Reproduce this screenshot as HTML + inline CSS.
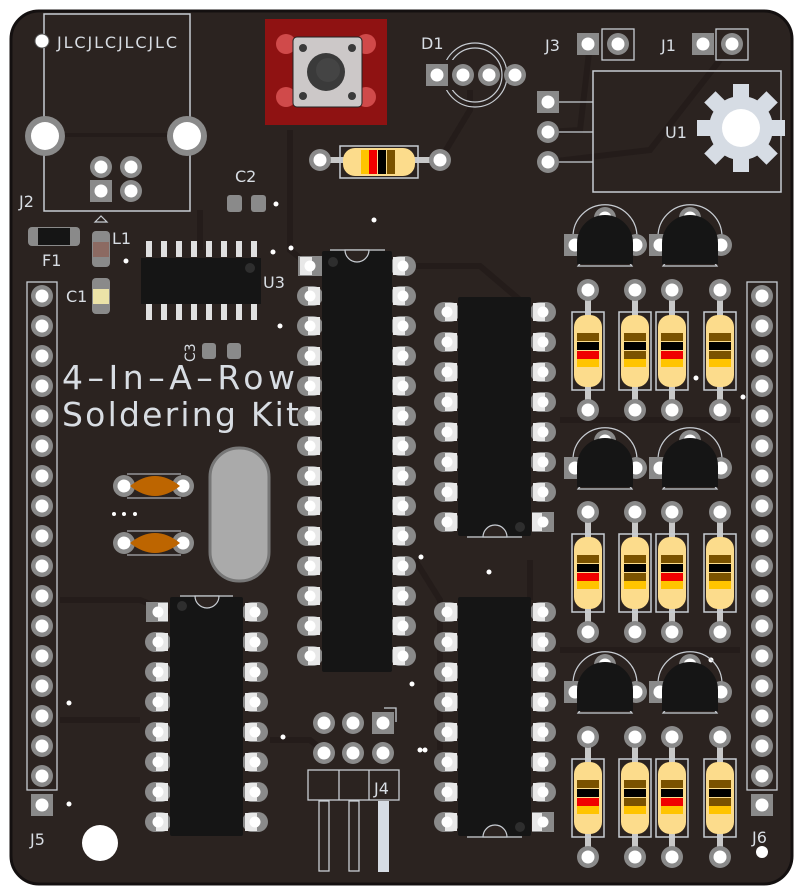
<!DOCTYPE html>
<html><head><meta charset="utf-8"><style>
html,body{margin:0;padding:0;background:#fff;width:804px;height:894px;overflow:hidden}
svg{display:block}
text{font-family:"DejaVu Sans","Liberation Sans",sans-serif;fill:#d8dde3}
</style></head><body>
<svg width="804" height="894" viewBox="0 0 804 894" xmlns="http://www.w3.org/2000/svg">
<defs>
<g id="pad"><circle r="11" fill="#8a8a8a"/><circle r="6.5" fill="#fff"/></g>
<g id="spad"><rect x="-11" y="-11" width="22" height="22" fill="#8a8a8a"/><circle r="6.5" fill="#fff"/></g>
<g id="dl"><rect x="-13" y="-10" width="26" height="20" rx="10" fill="#8a8a8a"/><rect x="-2" y="-9" width="12" height="18" fill="#e8e8e8"/><circle r="5.5" fill="#fff"/></g>
<g id="dr"><rect x="-13" y="-10" width="26" height="20" rx="10" fill="#8a8a8a"/><rect x="-10" y="-9" width="12" height="18" fill="#e8e8e8"/><circle r="5.5" fill="#fff"/></g>
<g id="dsq"><rect x="-12" y="-10" width="24" height="20" fill="#8a8a8a"/><rect x="-10" y="-9" width="12" height="18" fill="#e8e8e8"/><circle r="5.5" fill="#fff"/></g>
<g id="resR">
<line x1="0" y1="0" x2="0" y2="120" stroke="#c8c8c8" stroke-width="6"/>
<use href="#pad"/><use href="#pad" y="120"/>
<rect x="-16" y="22" width="32" height="78" fill="none" stroke="#c8cdd3" stroke-width="1.5"/>
<rect x="-14" y="25" width="28" height="72" rx="12" fill="#fcdc8c"/>
<rect x="-11" y="36" width="22" height="50" fill="#fcdc8c"/>
<rect x="-11" y="43" width="22" height="8" fill="#7a5200"/>
<rect x="-11" y="52" width="22" height="8" fill="#000"/>
<rect x="-11" y="61" width="22" height="8" fill="#f00000"/>
<rect x="-11" y="69" width="22" height="8" fill="#ffc400"/>
</g>
<g id="resB">
<line x1="0" y1="0" x2="0" y2="120" stroke="#c8c8c8" stroke-width="6"/>
<use href="#pad"/><use href="#pad" y="120"/>
<rect x="-16" y="22" width="32" height="78" fill="none" stroke="#c8cdd3" stroke-width="1.5"/>
<rect x="-14" y="25" width="28" height="72" rx="12" fill="#fcdc8c"/>
<rect x="-11" y="36" width="22" height="50" fill="#fcdc8c"/>
<rect x="-11" y="43" width="22" height="8" fill="#7a5200"/>
<rect x="-11" y="52" width="22" height="8" fill="#000"/>
<rect x="-11" y="61" width="22" height="8" fill="#7a5200"/>
<rect x="-11" y="69" width="22" height="8" fill="#ffc400"/>
</g>
<g id="tr">
<path d="M-22,22 A32,32 0 1 1 22,22 L27,28 L-27,28 Z" fill="none" stroke="#c8cdd3" stroke-width="1.2" transform="translate(0,-2)"/>
<use href="#pad" y="-22"/>
<use href="#spad" x="-30" y="5"/>
<use href="#pad" x="31" y="5"/>
<path d="M-28,24 L-28,3 A28,28 0 0 1 28,3 L28,24 Z" fill="#151515"/>
</g>
</defs>

<!-- board -->
<rect x="11" y="11" width="781" height="873" rx="28" fill="#2b2320" stroke="#141010" stroke-width="3"/>

<!-- traces (hint) -->
<g fill="none" stroke="#241c1a" stroke-width="6" opacity="0.9">
<path d="M200,210 L200,250"/><path d="M290,130 L290,250 L310,266"/>
<path d="M403,266 L480,266 L520,300"/><path d="M60,600 L140,600 L170,612"/>
<path d="M440,160 L470,110 L470,75"/><path d="M548,132 L580,130 L590,44"/>
<path d="M548,162 L650,150 L720,60"/><path d="M270,740 L310,740 L325,752"/>
<path d="M530,560 L530,600"/><path d="M415,560 L440,600 L440,750"/>
<path d="M60,720 L140,720"/><path d="M560,420 L740,420"/><path d="M560,650 L740,650"/>
</g>

<!-- J2 -->
<rect x="44" y="14" width="146" height="197" fill="none" stroke="#c8cdd3" stroke-width="1.5"/>
<line x1="45" y1="135" x2="187" y2="135" stroke="#241c1a" stroke-width="4"/>
<circle cx="45" cy="136" r="20" fill="#8a8a8a"/><circle cx="45" cy="136" r="14" fill="#fff"/>
<circle cx="187" cy="136" r="20" fill="#8a8a8a"/><circle cx="187" cy="136" r="14" fill="#fff"/>
<circle cx="42" cy="41" r="7" fill="#fff" stroke="#555" stroke-width="1"/>
<text x="57" y="48" font-size="16" textLength="120">JLCJLCJLCJLC</text>
<use href="#pad" x="101" y="167"/><use href="#pad" x="131" y="167"/>
<use href="#spad" x="101" y="191"/><use href="#pad" x="131" y="191"/>
<path d="M95,222 L101,216 L107,222 Z" fill="none" stroke="#c8cdd3" stroke-width="1.2"/>
<text x="19" y="207" font-size="16">J2</text>

<!-- F1, L1, C1 -->
<rect x="28" y="227" width="52" height="19" rx="4" fill="#8a8a8a"/><rect x="38" y="228" width="32" height="17" fill="#151515"/>
<text x="42" y="266" font-size="16">F1</text>
<rect x="92" y="231" width="18" height="36" rx="4" fill="#8a8a8a"/><rect x="93" y="242" width="16" height="15" fill="#8c6a62"/>
<text x="112" y="244" font-size="16">L1</text>
<rect x="92" y="278" width="18" height="36" rx="4" fill="#8a8a8a"/><rect x="93" y="289" width="16" height="15" fill="#ece3a8"/>
<text x="66" y="302" font-size="16">C1</text>
<circle cx="126" cy="261" r="2.5" fill="#fff"/>

<!-- C2 -->
<rect x="227" y="195" width="15" height="17" rx="3" fill="#8a8a8a"/><rect x="251" y="195" width="15" height="17" rx="3" fill="#8a8a8a"/>
<text x="235" y="182" font-size="16">C2</text>
<circle cx="276" cy="204" r="2.5" fill="#fff"/>
<!-- C3 -->
<rect x="202" y="343" width="14" height="16" rx="3" fill="#8a8a8a"/><rect x="227" y="343" width="14" height="16" rx="3" fill="#8a8a8a"/>
<text x="0" y="0" font-size="14" transform="translate(195,362) rotate(-90)">C3</text>

<!-- U3 SOIC -->
<g fill="#e0e0e0">
<rect x="146" y="241" width="6" height="16"/><rect x="161" y="241" width="6" height="16"/><rect x="176" y="241" width="6" height="16"/><rect x="191" y="241" width="6" height="16"/><rect x="206" y="241" width="6" height="16"/><rect x="221" y="241" width="6" height="16"/><rect x="236" y="241" width="6" height="16"/><rect x="251" y="241" width="6" height="16"/>
<rect x="146" y="304" width="6" height="16"/><rect x="161" y="304" width="6" height="16"/><rect x="176" y="304" width="6" height="16"/><rect x="191" y="304" width="6" height="16"/><rect x="206" y="304" width="6" height="16"/><rect x="221" y="304" width="6" height="16"/><rect x="236" y="304" width="6" height="16"/><rect x="251" y="304" width="6" height="16"/>
</g>
<rect x="141" y="258" width="120" height="46" fill="#151515"/>
<circle cx="250" cy="268" r="5" fill="#2e2e2e"/>
<text x="263" y="288" font-size="16">U3</text>
<circle cx="273" cy="252" r="2.5" fill="#fff"/><circle cx="280" cy="326" r="2.5" fill="#fff"/>

<!-- button -->
<rect x="265" y="19" width="122" height="106" fill="#8f1212"/>
<circle cx="286" cy="44" r="10" fill="#d04a4a"/><circle cx="366" cy="44" r="10" fill="#d04a4a"/>
<circle cx="286" cy="97" r="10" fill="#d04a4a"/><circle cx="366" cy="97" r="10" fill="#d04a4a"/>
<rect x="293" y="37" width="69" height="70" rx="4" fill="#ccc8c8" stroke="#222" stroke-width="1"/>
<circle cx="326" cy="72" r="19" fill="#3a3a3a"/><circle cx="328" cy="70" r="12" fill="#444"/>
<circle cx="303" cy="48" r="4" fill="#3a3a3a"/><circle cx="352" cy="48" r="4" fill="#3a3a3a"/>
<circle cx="303" cy="96" r="4" fill="#3a3a3a"/><circle cx="352" cy="96" r="4" fill="#3a3a3a"/>

<!-- horizontal resistor -->
<line x1="320" y1="160" x2="440" y2="160" stroke="#c8c8c8" stroke-width="6"/>
<use href="#pad" x="320" y="160"/><use href="#pad" x="440" y="160"/>
<rect x="340" y="146" width="78" height="32" fill="none" stroke="#c8cdd3" stroke-width="1.5"/>
<rect x="343" y="148" width="72" height="28" rx="12" fill="#fcdc8c"/>
<rect x="361" y="150" width="8" height="24" fill="#ffc400"/><rect x="369" y="150" width="8" height="24" fill="#f00000"/><rect x="378" y="150" width="8" height="24" fill="#000"/><rect x="387" y="150" width="8" height="24" fill="#7a5200"/>
<circle cx="374" cy="220" r="2.5" fill="#fff"/>

<!-- D1 -->
<circle cx="475" cy="75" r="32" fill="none" stroke="#c8cdd3" stroke-width="1.2"/>
<circle cx="475" cy="75" r="27" fill="none" stroke="#c8cdd3" stroke-width="1.2"/>
<rect x="440" y="60" width="35" height="30" fill="#2b2320"/>
<use href="#spad" x="437" y="75"/><use href="#pad" x="463" y="75"/><use href="#pad" x="489" y="75"/><use href="#pad" x="515" y="75"/>
<text x="421" y="49" font-size="16">D1</text>

<!-- J3 J1 -->
<text x="545" y="51" font-size="16">J3</text>
<use href="#spad" x="588" y="44"/><rect x="602" y="29" width="32" height="31" fill="none" stroke="#c8cdd3" stroke-width="1.3"/><use href="#pad" x="618" y="44"/>
<text x="661" y="51" font-size="16">J1</text>
<use href="#spad" x="703" y="44"/><rect x="716" y="29" width="32" height="31" fill="none" stroke="#c8cdd3" stroke-width="1.3"/><use href="#pad" x="732" y="44"/>

<!-- U1 -->
<rect x="593" y="71" width="188" height="121" fill="none" stroke="#c8cdd3" stroke-width="1.5"/>
<line x1="558" y1="102" x2="593" y2="102" stroke="#c8cdd3" stroke-width="1.3"/>
<line x1="558" y1="132" x2="593" y2="132" stroke="#c8cdd3" stroke-width="1.3"/>
<line x1="558" y1="162" x2="593" y2="162" stroke="#c8cdd3" stroke-width="1.3"/>
<use href="#spad" x="548" y="102"/><use href="#pad" x="548" y="132"/><use href="#pad" x="548" y="162"/>
<text x="665" y="138" font-size="16">U1</text>
<g transform="translate(741,128)" fill="#d6dce4">
<circle r="32"/>
<rect x="-8" y="-44" width="16" height="16"/><rect x="-8" y="28" width="16" height="16"/>
<rect x="-44" y="-8" width="16" height="16"/><rect x="28" y="-8" width="16" height="16"/>
<rect x="-8" y="-44" width="16" height="16" transform="rotate(45)"/><rect x="-8" y="-44" width="16" height="16" transform="rotate(135)"/>
<rect x="-8" y="-44" width="16" height="16" transform="rotate(225)"/><rect x="-8" y="-44" width="16" height="16" transform="rotate(315)"/>
<circle r="19" fill="#fff"/>
</g>

<!-- Text -->
<text x="62" y="389" font-size="33" textLength="233" lengthAdjust="spacing">4–In–A–Row</text>
<text x="62" y="426" font-size="33" textLength="237" lengthAdjust="spacing">Soldering Kit</text>

<!-- Crystal -->
<rect x="210" y="448" width="59" height="133" rx="29" fill="#aaaaaa" stroke="#777" stroke-width="3"/>
<!-- caps -->
<g>
<line x1="127" y1="474" x2="181" y2="474" stroke="#c8cdd3"/><line x1="127" y1="498" x2="181" y2="498" stroke="#c8cdd3"/>
<use href="#pad" x="124" y="486"/><use href="#pad" x="183" y="486"/>
<path d="M130,486 Q155,466 180,486 Q155,506 130,486Z" fill="#bd6500"/>
<line x1="127" y1="531" x2="181" y2="531" stroke="#c8cdd3"/><line x1="127" y1="555" x2="181" y2="555" stroke="#c8cdd3"/>
<use href="#pad" x="124" y="543"/><use href="#pad" x="183" y="543"/>
<path d="M130,543 Q155,523 180,543 Q155,563 130,543Z" fill="#bd6500"/>
<circle cx="114" cy="514" r="2" fill="#fff"/><circle cx="124" cy="514" r="2" fill="#fff"/><circle cx="135" cy="514" r="2" fill="#fff"/>
</g>

<!-- J5 -->
<rect x="27" y="282" width="30" height="508" fill="none" stroke="#c8cdd3" stroke-width="1.3"/>
<use href="#pad" x="42" y="296"/><use href="#pad" x="42" y="326"/><use href="#pad" x="42" y="356"/><use href="#pad" x="42" y="386"/><use href="#pad" x="42" y="416"/><use href="#pad" x="42" y="446"/><use href="#pad" x="42" y="476"/><use href="#pad" x="42" y="506"/><use href="#pad" x="42" y="536"/><use href="#pad" x="42" y="566"/><use href="#pad" x="42" y="596"/><use href="#pad" x="42" y="626"/><use href="#pad" x="42" y="656"/><use href="#pad" x="42" y="686"/><use href="#pad" x="42" y="716"/><use href="#pad" x="42" y="746"/><use href="#pad" x="42" y="776"/>
<use href="#spad" x="42" y="805"/>
<text x="30" y="845" font-size="16">J5</text>
<circle cx="69" cy="703" r="2.5" fill="#fff"/><circle cx="69" cy="804" r="2.5" fill="#fff"/>

<!-- J6 -->
<rect x="747" y="282" width="30" height="508" fill="none" stroke="#c8cdd3" stroke-width="1.3"/>
<use href="#pad" x="762" y="296"/><use href="#pad" x="762" y="326"/><use href="#pad" x="762" y="356"/><use href="#pad" x="762" y="386"/><use href="#pad" x="762" y="416"/><use href="#pad" x="762" y="446"/><use href="#pad" x="762" y="476"/><use href="#pad" x="762" y="506"/><use href="#pad" x="762" y="536"/><use href="#pad" x="762" y="566"/><use href="#pad" x="762" y="596"/><use href="#pad" x="762" y="626"/><use href="#pad" x="762" y="656"/><use href="#pad" x="762" y="686"/><use href="#pad" x="762" y="716"/><use href="#pad" x="762" y="746"/><use href="#pad" x="762" y="776"/>
<use href="#spad" x="762" y="805"/>
<text x="752" y="843" font-size="16">J6</text>
<circle cx="762" cy="852" r="6" fill="#fff"/>
<circle cx="743" cy="397" r="2.5" fill="#fff"/><circle cx="711" cy="660" r="2.5" fill="#fff"/><circle cx="696" cy="378" r="2.5" fill="#fff"/>

<!-- U2 big DIP -->
<use href="#dsq" x="310" y="266"/>
<use href="#dl" x="310" y="296"/><use href="#dl" x="310" y="326"/><use href="#dl" x="310" y="356"/><use href="#dl" x="310" y="386"/><use href="#dl" x="310" y="416"/><use href="#dl" x="310" y="446"/><use href="#dl" x="310" y="476"/><use href="#dl" x="310" y="506"/><use href="#dl" x="310" y="536"/><use href="#dl" x="310" y="566"/><use href="#dl" x="310" y="596"/><use href="#dl" x="310" y="626"/><use href="#dl" x="310" y="656"/>
<use href="#dr" x="403" y="266"/><use href="#dr" x="403" y="296"/><use href="#dr" x="403" y="326"/><use href="#dr" x="403" y="356"/><use href="#dr" x="403" y="386"/><use href="#dr" x="403" y="416"/><use href="#dr" x="403" y="446"/><use href="#dr" x="403" y="476"/><use href="#dr" x="403" y="506"/><use href="#dr" x="403" y="536"/><use href="#dr" x="403" y="566"/><use href="#dr" x="403" y="596"/><use href="#dr" x="403" y="626"/><use href="#dr" x="403" y="656"/>
<rect x="322" y="251" width="70" height="421" rx="2" fill="#151515"/>
<line x1="330" y1="250" x2="385" y2="250" stroke="#c8cdd3" stroke-width="1.3"/>
<path d="M345,250 A12,12 0 0 0 369,250 Z" fill="#2b2320" stroke="#c8cdd3" stroke-width="1.2"/>
<circle cx="333" cy="262" r="5" fill="#2e2e2e"/>
<circle cx="291" cy="248" r="2.5" fill="#fff"/><circle cx="421" cy="557" r="2.5" fill="#fff"/><circle cx="489" cy="572" r="2.5" fill="#fff"/><circle cx="412" cy="684" r="2.5" fill="#fff"/>

<!-- IC top right -->
<use href="#dl" x="447" y="312"/><use href="#dl" x="447" y="342"/><use href="#dl" x="447" y="372"/><use href="#dl" x="447" y="402"/><use href="#dl" x="447" y="432"/><use href="#dl" x="447" y="462"/><use href="#dl" x="447" y="492"/><use href="#dl" x="447" y="522"/>
<use href="#dr" x="543" y="312"/><use href="#dr" x="543" y="342"/><use href="#dr" x="543" y="372"/><use href="#dr" x="543" y="402"/><use href="#dr" x="543" y="432"/><use href="#dr" x="543" y="462"/><use href="#dr" x="543" y="492"/>
<rect x="532" y="512" width="22" height="20" fill="#8a8a8a"/><rect x="532" y="513" width="10" height="18" fill="#e8e8e8"/><circle cx="543" cy="522" r="5.5" fill="#fff"/>
<rect x="458" y="297" width="73" height="239" rx="2" fill="#151515"/>
<line x1="467" y1="537" x2="522" y2="537" stroke="#c8cdd3" stroke-width="1.3"/>
<path d="M483,537 A12,12 0 0 1 507,537 Z" fill="#2b2320" stroke="#c8cdd3" stroke-width="1.2"/>
<circle cx="520" cy="527" r="5" fill="#2e2e2e"/>

<!-- IC bottom right -->
<use href="#dl" x="447" y="612"/><use href="#dl" x="447" y="642"/><use href="#dl" x="447" y="672"/><use href="#dl" x="447" y="702"/><use href="#dl" x="447" y="732"/><use href="#dl" x="447" y="762"/><use href="#dl" x="447" y="792"/><use href="#dl" x="447" y="822"/>
<use href="#dr" x="543" y="612"/><use href="#dr" x="543" y="642"/><use href="#dr" x="543" y="672"/><use href="#dr" x="543" y="702"/><use href="#dr" x="543" y="732"/><use href="#dr" x="543" y="762"/><use href="#dr" x="543" y="792"/>
<rect x="532" y="812" width="22" height="20" fill="#8a8a8a"/><rect x="532" y="813" width="10" height="18" fill="#e8e8e8"/><circle cx="543" cy="822" r="5.5" fill="#fff"/>
<rect x="458" y="597" width="73" height="239" rx="2" fill="#151515"/>
<line x1="467" y1="837" x2="522" y2="837" stroke="#c8cdd3" stroke-width="1.3"/>
<path d="M483,837 A12,12 0 0 1 507,837 Z" fill="#2b2320" stroke="#c8cdd3" stroke-width="1.2"/>
<circle cx="520" cy="827" r="5" fill="#2e2e2e"/>
<circle cx="425" cy="750" r="2.5" fill="#fff"/>

<!-- IC bottom left -->
<rect x="146" y="602" width="22" height="20" fill="#8a8a8a"/><rect x="158" y="603" width="10" height="18" fill="#e8e8e8"/><circle cx="158" cy="612" r="5.5" fill="#fff"/>
<use href="#dl" x="158" y="642"/><use href="#dl" x="158" y="672"/><use href="#dl" x="158" y="702"/><use href="#dl" x="158" y="732"/><use href="#dl" x="158" y="762"/><use href="#dl" x="158" y="792"/><use href="#dl" x="158" y="822"/>
<use href="#dr" x="255" y="612"/><use href="#dr" x="255" y="642"/><use href="#dr" x="255" y="672"/><use href="#dr" x="255" y="702"/><use href="#dr" x="255" y="732"/><use href="#dr" x="255" y="762"/><use href="#dr" x="255" y="792"/><use href="#dr" x="255" y="822"/>
<rect x="170" y="597" width="73" height="239" rx="2" fill="#151515"/>
<line x1="180" y1="596" x2="233" y2="596" stroke="#c8cdd3" stroke-width="1.3"/>
<path d="M195,596 A12,12 0 0 0 219,596 Z" fill="#2b2320" stroke="#c8cdd3" stroke-width="1.2"/>
<circle cx="182" cy="606" r="5" fill="#2e2e2e"/>
<circle cx="283" cy="737" r="2.5" fill="#fff"/><circle cx="420" cy="750" r="2.5" fill="#fff"/>

<!-- J4 -->
<use href="#pad" x="324" y="723"/><use href="#pad" x="353" y="723"/><use href="#spad" x="383" y="723"/>
<path d="M384,708 L396,708 L396,722" fill="none" stroke="#c8cdd3" stroke-width="1.3"/>
<use href="#pad" x="324" y="753"/><use href="#pad" x="353" y="753"/><use href="#pad" x="383" y="753"/>
<rect x="308" y="770" width="91" height="30" fill="none" stroke="#c8cdd3" stroke-width="1.3"/>
<line x1="339" y1="770" x2="339" y2="800" stroke="#c8cdd3" stroke-width="1.3"/><line x1="369" y1="770" x2="369" y2="800" stroke="#c8cdd3" stroke-width="1.3"/>
<rect x="319" y="801" width="10" height="70" fill="none" stroke="#c8cdd3" stroke-width="1.3"/>
<rect x="349" y="801" width="10" height="70" fill="none" stroke="#c8cdd3" stroke-width="1.3"/>
<rect x="378" y="801" width="11" height="71" fill="#d6dce4"/>
<text x="374" y="794" font-size="16">J4</text>

<!-- mounting hole -->
<circle cx="100" cy="843" r="18" fill="#fff"/>

<!-- transistors -->
<use href="#tr" x="605" y="240"/><use href="#tr" x="690" y="240"/>
<use href="#tr" x="605" y="463"/><use href="#tr" x="690" y="463"/>
<use href="#tr" x="605" y="687"/><use href="#tr" x="690" y="687"/>

<!-- resistors -->
<use href="#resR" x="588" y="290"/><use href="#resB" x="635" y="290"/><use href="#resR" x="672" y="290"/><use href="#resB" x="720" y="290"/>
<use href="#resR" x="588" y="512"/><use href="#resB" x="635" y="512"/><use href="#resR" x="672" y="512"/><use href="#resB" x="720" y="512"/>
<use href="#resR" x="588" y="737"/><use href="#resB" x="635" y="737"/><use href="#resR" x="672" y="737"/><use href="#resB" x="720" y="737"/>
</svg>
</body></html>
